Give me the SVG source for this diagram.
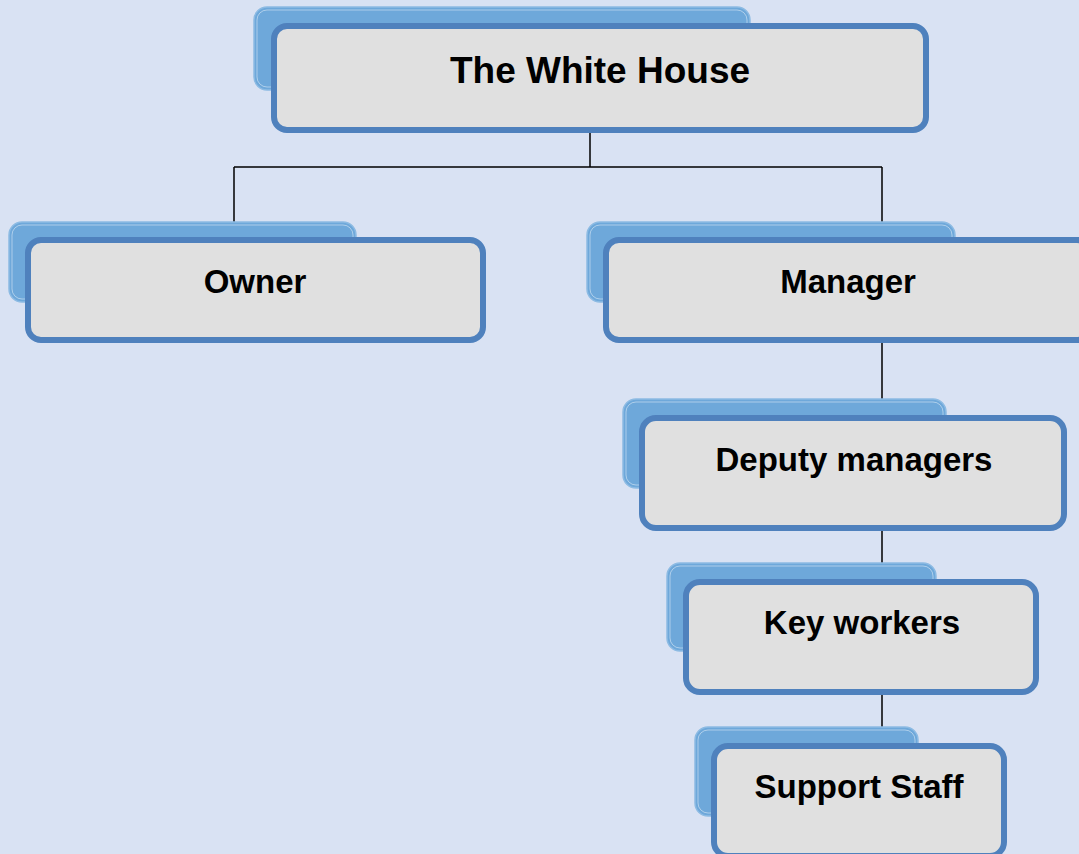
<svg xmlns="http://www.w3.org/2000/svg" width="1079" height="854" viewBox="0 0 1079 854">
<style>
.tab{fill:#6ea8da;stroke:#8dbbe3;stroke-width:1.5}
.tabin{fill:none;stroke:#ffffff;stroke-opacity:0.55;stroke-width:0.8}
.box{fill:#e0e0e0;stroke:#4f81bd;stroke-width:6}
.lbl{font-family:"Liberation Sans",Arial,sans-serif;font-weight:bold;font-size:33px;fill:#000;text-anchor:middle}
.con{stroke:#000;stroke-width:1.5;fill:none}
</style>
<rect x="0" y="0" width="1079" height="854" fill="#d9e2f3"/>
<g id="connectors">
<path class="con" d="M590 133V167M234 167H882M234 167V237M882 167V237M882 343V415M882 531V579M882 695V743"/>
</g>
<g id="node-white-house">
<rect class="tab" x="254" y="7" width="496" height="83" rx="13"/>
<rect class="tabin" x="257" y="10" width="490" height="77" rx="10"/>
<rect class="box" x="274" y="26" width="652" height="104" rx="13"/>
<text class="lbl" x="600" y="83" style="font-size:37px">The White House</text>
</g>
<g id="node-owner">
<rect class="tab" x="9" y="222" width="347" height="80" rx="13"/>
<rect class="tabin" x="12" y="225" width="341" height="74" rx="10"/>
<rect class="box" x="28" y="240" width="455" height="100" rx="13"/>
<text class="lbl" x="255" y="293">Owner</text>
</g>
<g id="node-manager">
<rect class="tab" x="587" y="222" width="368" height="80" rx="13"/>
<rect class="tabin" x="590" y="225" width="362" height="74" rx="10"/>
<rect class="box" x="606" y="240" width="484" height="100" rx="13"/>
<text class="lbl" x="848" y="293">Manager</text>
</g>
<g id="node-deputy">
<rect class="tab" x="623" y="399" width="323" height="89" rx="13"/>
<rect class="tabin" x="626" y="402" width="317" height="83" rx="10"/>
<rect class="box" x="642" y="418" width="422" height="110" rx="14"/>
<text class="lbl" x="854" y="471">Deputy managers</text>
</g>
<g id="node-key">
<rect class="tab" x="667" y="563" width="269" height="88" rx="13"/>
<rect class="tabin" x="670" y="566" width="263" height="82" rx="10"/>
<rect class="box" x="686" y="582" width="350" height="110" rx="14"/>
<text class="lbl" x="862" y="634">Key workers</text>
</g>
<g id="node-support">
<rect class="tab" x="695" y="727" width="223" height="89" rx="13"/>
<rect class="tabin" x="698" y="730" width="217" height="83" rx="10"/>
<rect class="box" x="714" y="746" width="290" height="110" rx="14"/>
<text class="lbl" x="859" y="798">Support Staff</text>
</g>
</svg>
